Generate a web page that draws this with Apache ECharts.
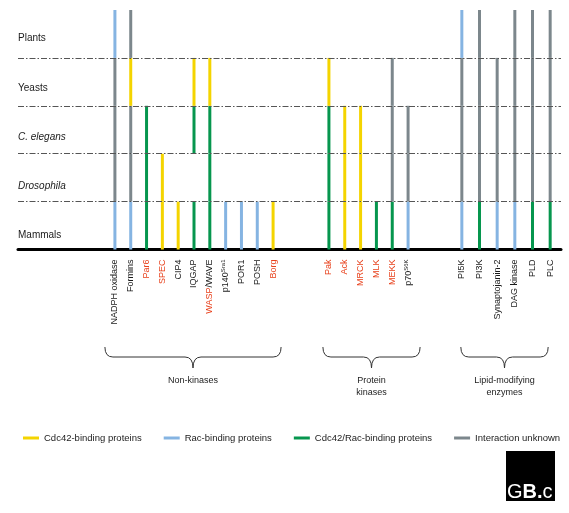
<!DOCTYPE html>
<html><head><meta charset="utf-8">
<script src="https://cdn.jsdelivr.net/npm/echarts@6/dist/echarts.min.js"></script>
<style>html,body{margin:0;padding:0;background:#fff}#c{width:569px;height:513px}</style>
</head><body><div id="c"></div>
<script>
// ---- data ----
const organisms = ['Mammals', 'Drosophila', 'C. elegans', 'Yeasts', 'Plants']; // bottom -> top
const italicOrganisms = ['C. elegans', 'Drosophila'];
const levelBoundaries = [1, 2, 3, 4];
const bindingTypes = ['Cdc42-binding proteins', 'Rac-binding proteins', 'Cdc42/Rac-binding proteins', 'Interaction unknown'];
const bindingCodes = ['C', 'R', 'B', 'U']; // '-' = absent
const bindingColors = ['#f4d400', '#85b4e2', '#06964e', '#7c878c'];

const groupNames = ['Non-kinases', 'Protein\nkinases', 'Lipid-modifying\nenzymes'];
// each code string: Mammals, Drosophila, C. elegans, Yeasts, Plants
const nonKinases = ['NADPH oxidase', 'Formins', 'Par6', 'SPEC', 'CIP4', 'IQGAP', 'WASP/WAVE', 'p140Sra1', 'POR1', 'POSH', 'Borg'];
const nonKinaseCodes = ['RUUUR', 'RUUCU', 'BBB--', 'CC---', 'C----', 'B-BC-', 'BBBC-', 'R----', 'R----', 'R----', 'C----'];
const kinases = ['Pak', 'Ack', 'MRCK', 'MLK', 'MEKK', 'p70S6K'];
const kinaseCodes = ['BBBC-', 'CCC--', 'CCC--', 'B----', 'BUUU-', 'RUU--'];
const lipidEnzymes = ['PI5K', 'PI3K', 'Synaptojanin-2', 'DAG kinase', 'PLD', 'PLC'];
const lipidCodes = ['RUUUR', 'BUUUU', 'RUUU-', 'RUUUU', 'BUUUU', 'BUUUU'];
const redLabels = ['Par6', 'SPEC', 'WASP', 'Borg', 'Pak', 'Ack', 'MRCK', 'MLK', 'MEKK'];
const superscripts = { 'p140Sra1': ['p140', 'Sra1'], 'p70S6K': ['p70', 'S6K'] };

// ---- build ----
const FONT = "'Liberation Sans', Arial, Helvetica, sans-serif";
const groups = [
  { names: nonKinases, codes: nonKinaseCodes, grid: { left: 107, width: 174 }, pad: [10, 8] },
  { names: kinases, codes: kinaseCodes, grid: { left: 321, width: 95 }, pad: [6, 12] },
  { names: lipidEnzymes, codes: lipidCodes, grid: { left: 453, width: 106 }, pad: [1, -2] }
];

function segmentsOf(codes) {
  const out = [];
  codes.forEach((code, i) => {
    for (let l = 0; l < code.length; l++) {
      const t = bindingCodes.indexOf(code[l]);
      if (t >= 0) out.push([i, l, l + 1, t]);
    }
  });
  return out;
}

function labelFormatter(v) {
  if (superscripts[v]) return superscripts[v][0] + '{sup|' + superscripts[v][1] + '}';
  return v.split('/').map(p => redLabels.includes(p) ? '{r|' + p + '}' : p).join('/');
}

const TOP = 10, BOTTOM = 263.5;
const grids = [{ left: 18, right: 8, top: TOP, bottom: BOTTOM }];
const xAxes = [{ type: 'value', gridIndex: 0, min: 0, max: 1, axisLabel: { show: false }, axisTick: { show: false }, splitLine: { show: false },
  axisLine: { show: true, lineStyle: { color: '#000', width: 3 } } }];
const yAxes = [{ type: 'value', gridIndex: 0, min: 0, max: 5, show: false }];
const series = [];

groups.forEach((g, k) => {
  grids.push(Object.assign({ top: TOP, bottom: BOTTOM }, g.grid));
  xAxes.push({
    type: 'category', gridIndex: k + 1, data: g.names, boundaryGap: true,
    axisLine: { show: false }, axisTick: { show: false }, splitLine: { show: false },
    axisLabel: {
      interval: 0, rotate: 90, margin: 10, fontSize: 9, color: '#1a1a1a', fontFamily: FONT,
      formatter: labelFormatter,
      rich: {
        r: { color: '#e8411c', fontSize: 9, fontFamily: FONT },
        sup: { fontSize: 6, fontFamily: FONT, color: '#1a1a1a', verticalAlign: 'top', padding: [0, 0, 4, 0] }
      }
    }
  });
  yAxes.push({ type: 'value', gridIndex: k + 1, min: 0, max: 5, show: false });
  series.push({
    type: 'custom', xAxisIndex: k + 1, yAxisIndex: k + 1, silent: true,
    encode: { x: 0, y: [1, 2] },
    data: segmentsOf(g.codes),
    renderItem: function (params, api) {
      const x = api.value(0);
      const p0 = api.coord([x, api.value(1)]);
      const p1 = api.coord([x, api.value(2)]);
      return { type: 'line', shape: { x1: p0[0], y1: p0[1], x2: p1[0], y2: p1[1] },
        style: { stroke: bindingColors[api.value(3)], lineWidth: 3 } };
    }
  });
});

// organism label grid
grids.push({ left: 18, width: 20, top: 14, bottom: 253 });
xAxes.push({ type: 'value', gridIndex: 4, show: false });
yAxes.push({
  type: 'category', gridIndex: 4, data: organisms, boundaryGap: true,
  axisLine: { show: false }, axisTick: { show: false }, splitLine: { show: false },
  axisLabel: {
    inside: true, margin: 0, fontSize: 10, color: '#1a1a1a', fontFamily: FONT,
    formatter: v => italicOrganisms.includes(v) ? '{i|' + v + '}' : v,
    rich: { i: { fontStyle: 'italic', fontSize: 10, color: '#1a1a1a', fontFamily: FONT } }
  }
});

// dashed organism boundaries
series.push({
  type: 'line', xAxisIndex: 0, yAxisIndex: 0, data: [], silent: true,
  markLine: {
    silent: true, symbol: 'none', label: { show: false }, animation: false,
    lineStyle: { color: '#555', width: 1, type: [6, 2, 1.5, 2] },
    data: levelBoundaries.map(v => ({ yAxis: v }))
  }
});

// legend series
bindingTypes.forEach((name, i) => {
  series.push({ type: 'line', name: name, xAxisIndex: 0, yAxisIndex: 0, data: [],
    itemStyle: { color: bindingColors[i] }, lineStyle: { color: bindingColors[i] } });
});

const chart = echarts.init(document.getElementById('c'));
chart.setOption({
  animation: false,
  textStyle: { fontFamily: FONT },
  grid: grids, xAxis: xAxes, yAxis: yAxes, series: series,
  legend: {
    data: bindingTypes, left: 18, top: 428, icon: 'rect', itemWidth: 16, itemHeight: 3, itemGap: 22,
    selectedMode: false, textStyle: { fontSize: 9.5, color: '#222', fontFamily: FONT }
  }
});

// braces and group labels, positioned from the category axes
const graphics = [];
const BT = 347, BM = 357, BB = 368, R = 8;
const braceStyle = { stroke: '#333', lineWidth: 1, fill: 'none' };
groups.forEach((g, k) => {
  const first = chart.convertToPixel({ xAxisIndex: k + 1 }, 0);
  const last = chart.convertToPixel({ xAxisIndex: k + 1 }, g.names.length - 1);
  const x0 = first - g.pad[0], x1 = last + g.pad[1], cx = (x0 + x1) / 2;
  graphics.push(
    { type: 'bezierCurve', shape: { x1: x0, y1: BT, x2: x0 + R, y2: BM, cpx1: x0, cpy1: BM }, style: braceStyle },
    { type: 'line', shape: { x1: x0 + R, y1: BM, x2: cx - R, y2: BM }, style: braceStyle },
    { type: 'bezierCurve', shape: { x1: cx - R, y1: BM, x2: cx, y2: BB, cpx1: cx, cpy1: BM }, style: braceStyle },
    { type: 'bezierCurve', shape: { x1: cx, y1: BB, x2: cx + R, y2: BM, cpx1: cx, cpy1: BM }, style: braceStyle },
    { type: 'line', shape: { x1: cx + R, y1: BM, x2: x1 - R, y2: BM }, style: braceStyle },
    { type: 'bezierCurve', shape: { x1: x1 - R, y1: BM, x2: x1, y2: BT, cpx1: x1, cpy1: BM }, style: braceStyle },
    { type: 'text', x: cx, y: 375, style: { text: groupNames[k], align: 'center', verticalAlign: 'top',
      font: '9px ' + FONT, lineHeight: 12, fill: '#222' } }
  );
});
// GB.c logo
graphics.push(
  { type: 'rect', shape: { x: 506, y: 451, width: 49, height: 50 }, style: { fill: '#000' } },
  { type: 'text', x: 507, y: 502, style: { text: '{t|G}{b|B.}{t|c}', verticalAlign: 'bottom', align: 'left',
    rich: { t: { fontSize: 20, fontFamily: FONT, fill: '#fff', fontWeight: 'normal' },
            b: { fontSize: 20, fontFamily: FONT, fill: '#fff', fontWeight: 'bold' } } } }
);
chart.setOption({ graphic: graphics });
</script>
</body></html>
